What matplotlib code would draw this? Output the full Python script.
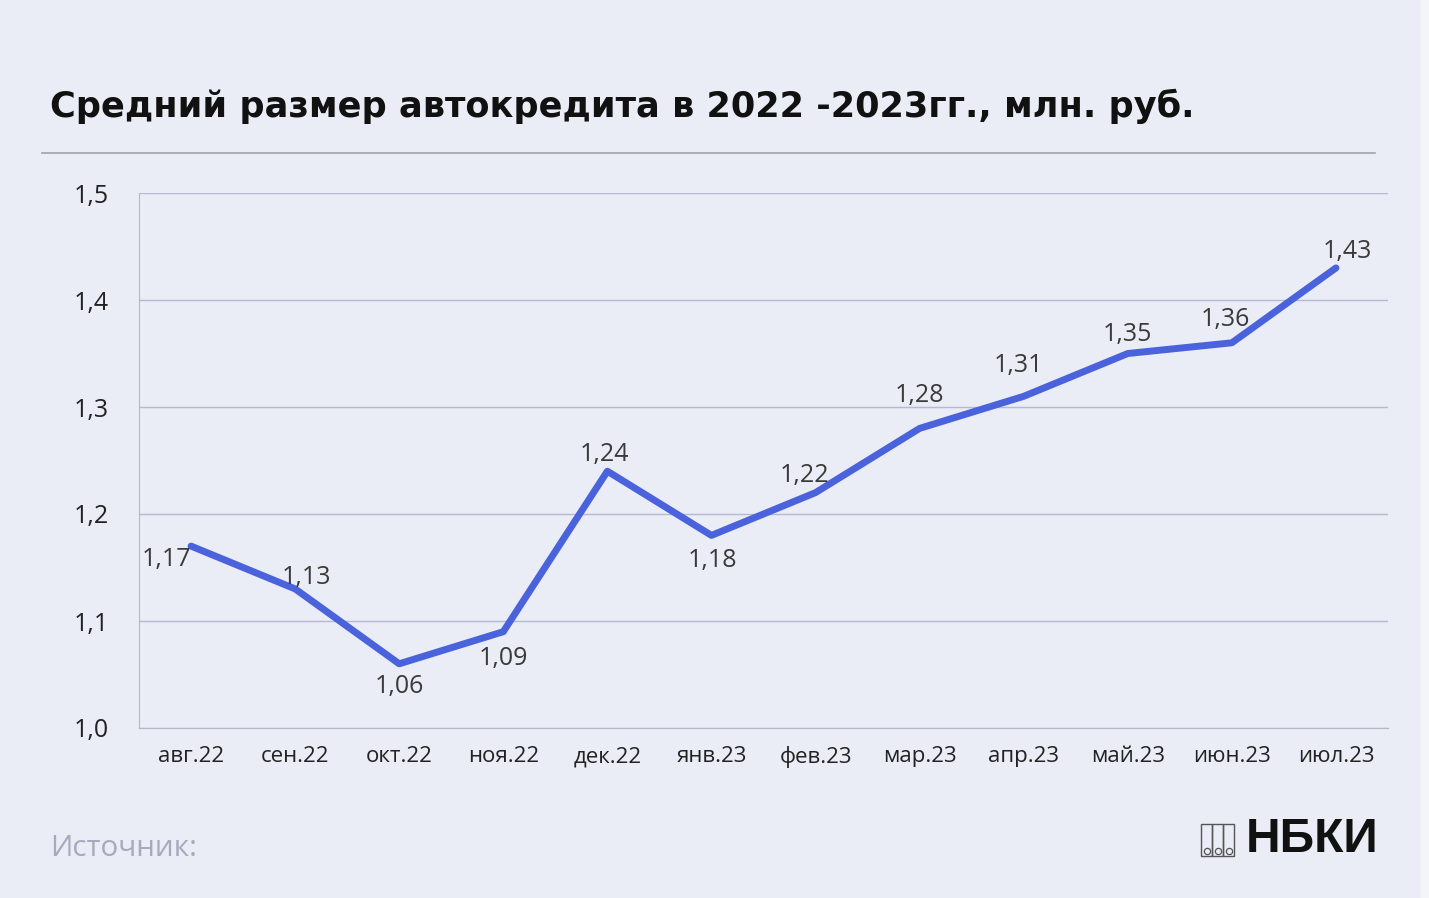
import matplotlib
matplotlib.use("Agg")
import matplotlib.pyplot as plt
from matplotlib.patches import FancyBboxPatch, Rectangle

months = ["авг.22", "сен.22", "окт.22", "ноя.22", "дек.22", "янв.23",
          "фев.23", "мар.23", "апр.23", "май.23", "июн.23", "июл.23"]
values = [1.17, 1.13, 1.06, 1.09, 1.24, 1.18, 1.22, 1.28, 1.31, 1.35, 1.36, 1.43]
labels = ["1,17", "1,13", "1,06", "1,09", "1,24", "1,18", "1,22", "1,28", "1,31", "1,35", "1,36", "1,43"]
yticks = [1.0, 1.1, 1.2, 1.3, 1.4, 1.5]
ytick_labels = ["1,0", "1,1", "1,2", "1,3", "1,4", "1,5"]

# label offsets in points (layout only)
offsets = [(-18, -10), (8, 8), (0, -16), (0, -19), (-2, 12), (1, -18),
           (-8, 12), (0, 24), (-4, 22), (0, 14), (-5, 17), (8, 12)]

BG = "#eaedf6"
plt.rcParams['font.family'] = ['Open Sans', 'DejaVu Sans']

fig = plt.figure(figsize=(14.29, 8.98), dpi=100)
fig.patch.set_facecolor("#f4f5f9")
card = FancyBboxPatch((0.0, -0.02), 0.994, 1.04, boxstyle="round,pad=0,rounding_size=0.012",
                      transform=fig.transFigure, facecolor=BG, edgecolor="none", zorder=-10)
fig.patches.append(card)

W, H = 1429, 898
ax = fig.add_axes([139 / W, 1 - 728 / H, (1388 - 139) / W, (728 - 193) / H])
ax.set_zorder(1)
ax.set_facecolor(BG)
x = list(range(len(months)))
ax.plot(x, values, color="#4a62dc", lw=5, solid_capstyle="round", solid_joinstyle="round", zorder=3)
ax.set_xlim(-0.5, len(months) - 0.5)
ax.set_ylim(1.0, 1.5)
ax.set_yticks(yticks)
ax.set_yticklabels(ytick_labels, fontsize=18, color="#222222")
ax.set_xticks(x)
ax.set_xticklabels(months, fontsize=16, color="#222222")
ax.tick_params(axis="both", length=0)
ax.tick_params(axis="y", pad=22)
ax.tick_params(axis="x", pad=13)
ax.grid(axis="y", color="#b6b9d2", lw=1.0, zorder=1)
for s in ["top", "right"]:
    ax.spines[s].set_visible(False)
ax.spines["left"].set_color("#b4b7c9")
ax.spines["bottom"].set_color("#b4b7c9")

for xi, v, lab, off in zip(x, values, labels, offsets):
    ax.annotate(lab, (xi, v), xytext=off, textcoords="offset points",
                ha="center", va="center", fontsize=18, color="#3a3a3a", zorder=4)

fig.text(50 / W, 1 - 106 / H, "Средний размер автокредита в 2022 -2023гг., млн. руб.",
         fontsize=25.3, fontweight="bold", color="#111111", va="center", ha="left",
         family=["DejaVu Sans"])
fig.add_artist(plt.Line2D([42 / W, 1375 / W], [1 - 153 / H, 1 - 153 / H],
                          color="#a0a2b0", lw=1.2, transform=fig.transFigure))

fig.text(50 / W, 1 - 849 / H, "Источник:", fontsize=21.3, color="#a7aabd", va="center", ha="left")
fig.text(1246 / W, 1 - 840 / H, "НБКИ", fontsize=34.5, fontweight="bold", color="#111111",
         va="center", ha="left", family=["Liberation Sans", "DejaVu Sans"])

# logo icon
ix0, iy0, iw, ih = 1201, 824, 33, 32
for k in range(3):
    fig.add_artist(Rectangle(((ix0 + k * iw / 3) / W, 1 - (iy0 + ih) / H), (iw / 3) / W, ih / H,
                             transform=fig.transFigure, facecolor="none", edgecolor="#555555", lw=1.0))
    cx = (ix0 + k * iw / 3 + iw / 6) / W
    cy = 1 - (iy0 + ih - 5) / H
    fig.add_artist(plt.Line2D([cx], [cy], marker="o", markersize=4.5, markerfacecolor="none",
                              markeredgecolor="#555555", markeredgewidth=0.9, transform=fig.transFigure))

fig.savefig("out.png", dpi=100, facecolor=fig.get_facecolor())
